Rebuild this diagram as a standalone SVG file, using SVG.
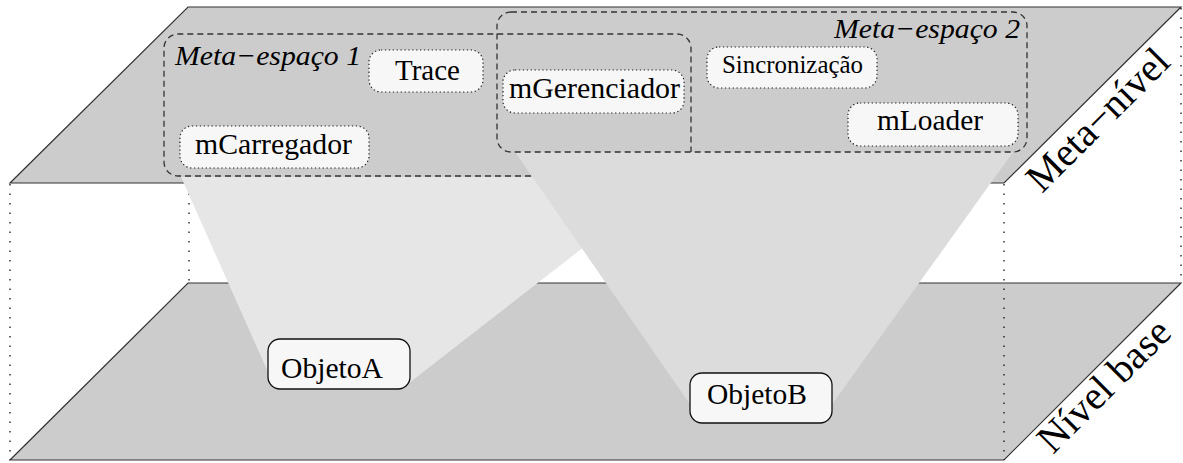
<svg xmlns="http://www.w3.org/2000/svg" width="1183" height="463" viewBox="0 0 1183 463" font-family="'Liberation Serif', serif">
<style>
.plane{fill:#cccccc;stroke:#333;stroke-width:1.2}
.hidden{stroke:#000;stroke-width:1.2;stroke-dasharray:1.5 8;fill:none}
.space{fill:none;stroke:#333;stroke-width:1.3;stroke-dasharray:6 4}
.meta{fill:#f7f7f7;stroke:#222;stroke-width:1.2;stroke-dasharray:1.3 2.6}
.obj{fill:#f7f7f7;stroke:#111;stroke-width:1.3}
text{font-family:"Liberation Serif",serif;fill:#000}
.lbl{font-size:29px}
.it{font-size:28px;font-style:italic}
.lvl{font-size:40px}
</style>
<rect width="1183" height="463" fill="#fff"/>
<g id="planes">
<polygon id="base-plane" class="plane" points="188,283 1181,283 1004,460 10,460"/>
<polygon id="meta-plane" class="plane" points="188,7 1181,7 1004,183 10,183"/>
</g>
<g id="hidden-edges">
<line class="hidden" x1="10" y1="184" x2="10" y2="460"/>
<line class="hidden" x1="189" y1="184" x2="189" y2="283"/>
<line class="hidden" x1="1004" y1="184" x2="1004" y2="460"/>
<line class="hidden" x1="1181" y1="8" x2="1181" y2="283"/>
</g>
<g id="connectors">
<polygon id="proj-objetoA" fill="#e6e6e6" points="181,177 674,177 409,383 272,381"/>
<polygon id="proj-objetoB" fill="#dcdcdc" points="515,152 1013,152 828,410 694,410"/>
</g>
<g id="meta-espaco-1">
<path class="space" d="M531,176 H178 A14 14 0 0 1 164 162 V48 A14 14 0 0 1 178 34 H677 A14 14 0 0 1 691 48 V152"/>
<text class="it" x="175" y="65" textLength="186" lengthAdjust="spacingAndGlyphs">Meta−espaço 1</text>
</g>
<g id="meta-espaco-2">
<rect class="space" x="497" y="12" width="530" height="140" rx="14"/>
<text class="it" x="834" y="38" textLength="186" lengthAdjust="spacingAndGlyphs">Meta−espaço 2</text>
</g>
<g id="trace">
<rect class="meta" x="369" y="50" width="114" height="42" rx="12"/>
<text class="lbl" x="395" y="80" textLength="65" lengthAdjust="spacingAndGlyphs">Trace</text>
</g>
<g id="mCarregador">
<rect class="meta" x="180" y="126" width="189" height="42" rx="12"/>
<text class="lbl" x="195" y="154" textLength="157" lengthAdjust="spacingAndGlyphs">mCarregador</text>
</g>
<g id="mGerenciador">
<rect class="meta" x="503" y="70" width="181" height="43" rx="12"/>
<text class="lbl" x="509" y="98" textLength="171" lengthAdjust="spacingAndGlyphs">mGerenciador</text>
</g>
<g id="sincronizacao">
<rect class="meta" x="707" y="47" width="170" height="41" rx="12"/>
<text x="722" y="73" font-size="25" textLength="141" lengthAdjust="spacingAndGlyphs">Sincronização</text>
</g>
<g id="mLoader">
<rect class="meta" x="848" y="103" width="170" height="43" rx="12"/>
<text class="lbl" x="877" y="130" textLength="106" lengthAdjust="spacingAndGlyphs">mLoader</text>
</g>
<g id="objetoA">
<rect class="obj" x="268" y="339" width="142" height="50" rx="12"/>
<text class="lbl" x="281" y="378" textLength="102" lengthAdjust="spacingAndGlyphs">ObjetoA</text>
</g>
<g id="objetoB">
<rect class="obj" x="690" y="373" width="142" height="50" rx="12"/>
<text class="lbl" x="707" y="404" textLength="100" lengthAdjust="spacingAndGlyphs">ObjetoB</text>
</g>
<g id="level-labels">
<text class="lvl" transform="translate(1042,194) rotate(-45)" textLength="184" lengthAdjust="spacingAndGlyphs">Meta−nível</text>
<text class="lvl" transform="translate(1053,455) rotate(-45)" textLength="170" lengthAdjust="spacingAndGlyphs">Nível base</text>
</g>
</svg>
